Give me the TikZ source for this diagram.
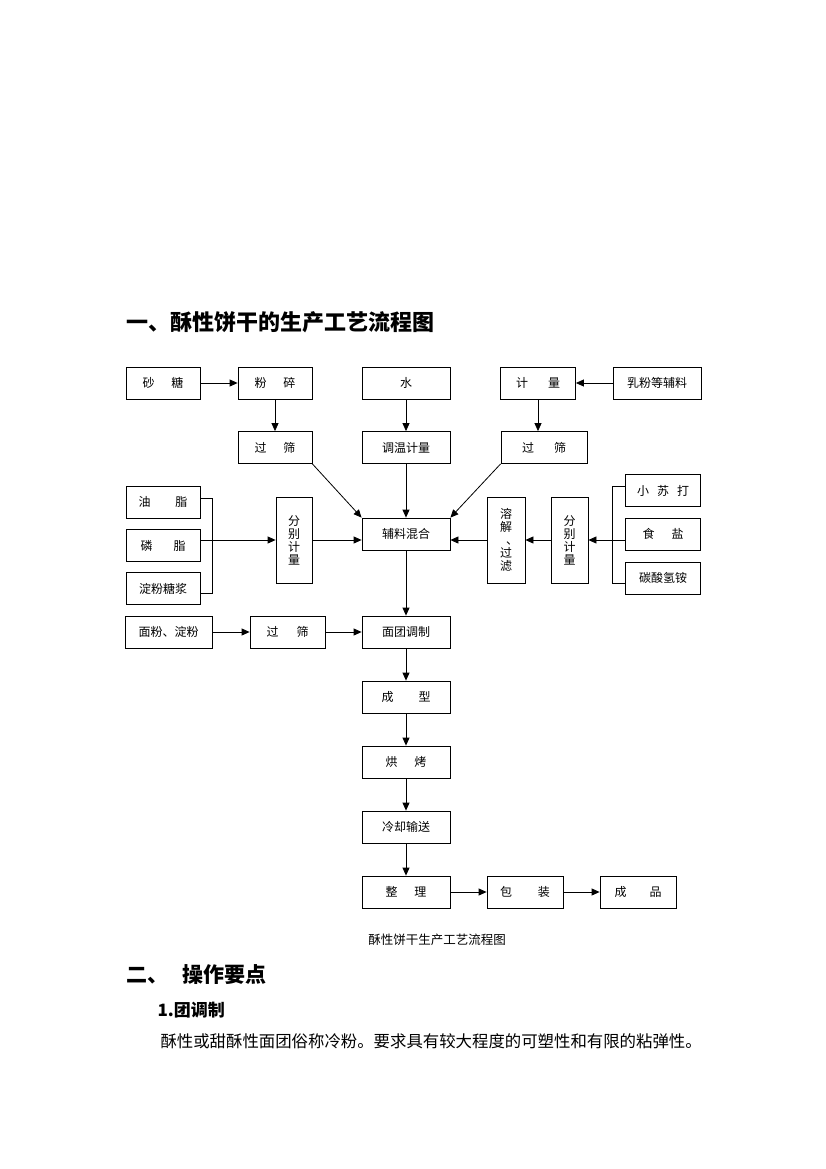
\documentclass[tikz,border=0pt]{standalone}
\usepackage{fontspec}
\setmainfont{Noto Sans CJK SC}
\usetikzlibrary{arrows.meta,positioning}

\tikzset{
  box/.style={draw, line width=0.8pt, inner sep=0pt, minimum height=32pt,
    font=\fontsize{12}{13}\selectfont},
  tallbox/.style={box, minimum height=86pt, align=center},
  flow/.style={-{Triangle[length=8pt,width=7pt]}, line width=0.8pt},
  bracket/.style={line width=0.8pt},
}

\begin{document}
\begin{tikzpicture}[x=1pt,y=-1pt]
    % page frame in pixels
    \useasboundingbox (0,0) rectangle (826,1169);

    % heading
    \node[anchor=west, font=\fontsize{22}{22}\selectfont\bfseries] (title) at (123,322) {一、酥性饼干的生产工艺流程图};

    % top row
    \node[box, minimum width=74pt] (sugar) at (163,383) {砂\hspace{17pt}糖};
    \node[box, minimum width=74pt] (grind) at (275,383) {粉\hspace{17pt}碎};
    \node[box, minimum width=88pt] (water) at (406,383) {水};
    \node[box, minimum width=75pt] (meter) at (538,383) {计\hspace{20pt}量};
    \node[box, minimum width=88pt] (milk)  at (657,383) {乳粉等辅料};

    % second row
    \node[box, minimum width=74pt] (sieveA) at (275,447.5) {过\hspace{17pt}筛};
    \node[box, minimum width=88pt] (temper) at (406,447.5) {调温计量};
    \node[box, minimum width=86pt] (sieveB) at (544,447.5) {过\hspace{20pt}筛};

    % left inputs
    \node[box, minimum width=74pt] (oil)   at (163,502)   {油\hspace{25pt}脂};
    \node[box, minimum width=74pt] (lec)   at (163,545.5) {磷\hspace{21pt}脂};
    \node[box, minimum width=74pt] (syrup) at (163,588.5) {淀粉糖浆};
    \node[tallbox, minimum width=36pt] (meas1) at (294,540) {分\\别\\计\\量};

    % mixing
    \node[box, minimum width=88pt] (mix) at (406,534) {辅料混合};

    % right inputs
    \node[tallbox, minimum width=38pt] (dissolve) at (506,540) {溶\\解\\\hspace*{12pt}、\\过\\滤};
    \node[tallbox, minimum width=37pt] (meas2) at (569.5,540) {分\\别\\计\\量};
    \node[box, minimum width=75pt] (soda) at (663,490.5) {小\hspace{8pt}苏\hspace{8pt}打};
    \node[box, minimum width=75pt] (salt) at (663,534)   {食\hspace{17pt}盐};
    \node[box, minimum width=75pt] (amm)  at (663,578)   {碳酸氢铵};

    % main line
    \node[box, minimum width=87pt] (flour)  at (168.5,632) {面粉、淀粉};
    \node[box, minimum width=75pt] (sieveC) at (287.5,632) {过\hspace{18pt}筛};
    \node[box, minimum width=88pt] (dough) at (406,632) {面团调制};
    \node[box, minimum width=88pt] (shape) at (406,697) {成\hspace{25pt}型};
    \node[box, minimum width=88pt] (bake)  at (406,762) {烘\hspace{17pt}烤};
    \node[box, minimum width=88pt] (cool)  at (406,827) {冷却输送};
    \node[box, minimum width=88pt] (trim)  at (406,892) {整\hspace{17pt}理};
    \node[box, minimum width=76pt] (pack)  at (525,892) {包\hspace{26pt}装};
    \node[box, minimum width=76pt] (prod)  at (638,892) {成\hspace{23pt}品};

    % arrows, top part
    \draw[flow] (sugar) -- (grind);
    \draw[flow] (grind) -- (sieveA);
    \draw[flow] (water) -- (temper);
    \draw[flow] (milk) -- (meter);
    \draw[flow] (meter) -- (meter |- sieveB.north);
    \draw[flow] (sieveA.south east) -- (mix.north west);
    \draw[flow] (temper) -- (mix);
    \draw[flow] (sieveB.south west) -- (mix.north east);

    % left bracket and arrows
    \draw[bracket] ([yshift=4pt]oil.east) -- ++(12,0) |- ([yshift=-5pt]syrup.east);
    \draw[flow] (lec.east |- meas1.west) -- (meas1.west);
    \draw[flow] (meas1.east) -- (meas1.east -| mix.west);

    % right bracket and arrows
    \draw[bracket] ([yshift=4pt]soda.west) -- ++(-13,0) |- ([yshift=-5pt]amm.west);
    \draw[flow] (salt.west |- meas2.east) -- (meas2.east);
    \draw[flow] (meas2.west) -- (dissolve.east);
    \draw[flow] (dissolve.west) -- (dissolve.west -| mix.east);

    % main line arrows
    \draw[flow] (mix) -- (dough);
    \draw[flow] (flour) -- (sieveC);
    \draw[flow] (sieveC) -- (dough);
    \draw[flow] (dough) -- (shape);
    \draw[flow] (shape) -- (bake);
    \draw[flow] (bake) -- (cool);
    \draw[flow] (cool) -- (trim);
    \draw[flow] (trim) -- (pack);
    \draw[flow] (pack) -- (prod);

    % caption and text below
    \node[font=\fontsize{12.5}{12.5}\selectfont] (caption) at (437,940) {酥性饼干生产工艺流程图};
    \node[anchor=west, font=\fontsize{21}{21}\selectfont\bfseries] (sec) at (123,975) {二、\hspace{14pt}操作要点};
    \node[anchor=west, font=\fontsize{17}{17}\selectfont\bfseries] (sub) at (154,1010) {1.团调制};
    \node[anchor=west, font=\fontsize{16.4}{16.4}\selectfont] (para) at (157,1041) {酥性或甜酥性面团俗称冷粉。要求具有较大程度的可塑性和有限的粘弹性。};
\end{tikzpicture}
\end{document}
